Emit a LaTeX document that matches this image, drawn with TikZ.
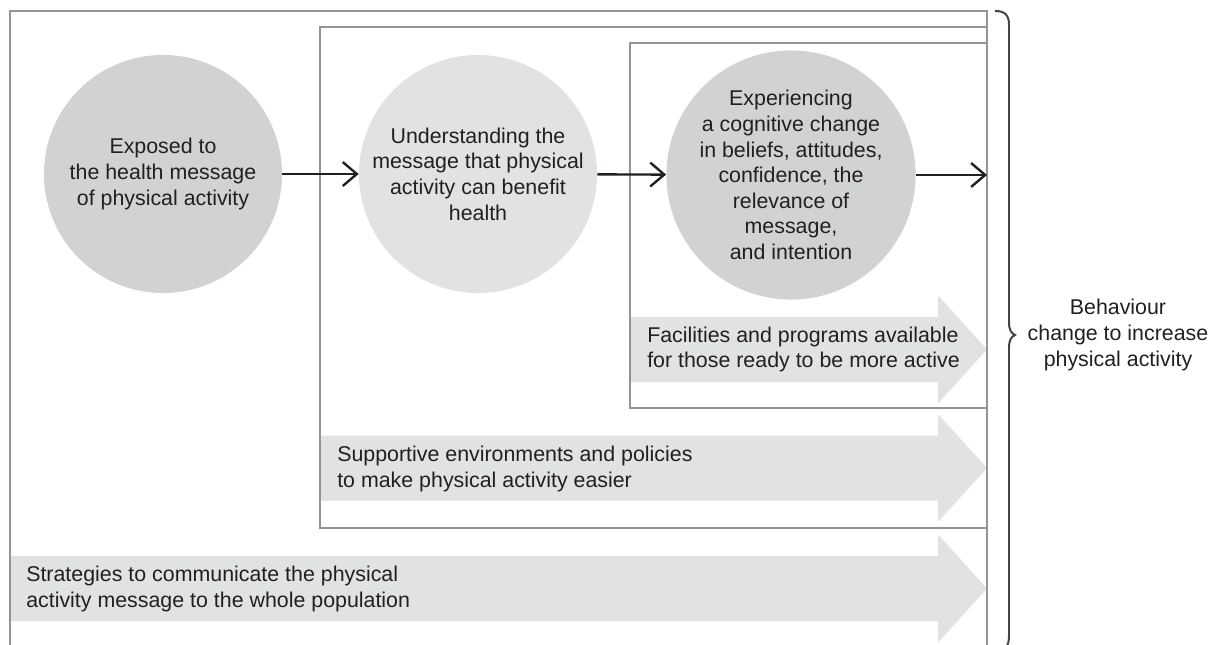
\documentclass[tikz,border=0pt]{standalone}
\usepackage{fontspec}
\setmainfont{Liberation Sans}
\usetikzlibrary{arrows.meta}

\definecolor{stagedark}{HTML}{D1D2D4}
\definecolor{stagelight}{HTML}{E1E2E4}
\definecolor{bandfill}{HTML}{E1E2E3}
\definecolor{framegray}{HTML}{939496}
\definecolor{ink}{HTML}{231F20}

\begin{document}
\begin{tikzpicture}[x=0.025cm,y=-0.025cm,
  every node/.style={font=\fontsize{15.2}{18.2}\selectfont,text=ink},
  stage/.style={circle,inner sep=0pt,minimum size=5.95cm,align=center},
  band/.style={fill=bandfill},
  bandtext/.style={anchor=west,align=left,inner sep=0pt},
  frameline/.style={draw=framegray,line width=2.1pt},
  flow/.style={draw=ink,line width=1.7pt,-{Straight Barb[length=10pt,width=17pt]}}]
\useasboundingbox (0,0) rectangle (1212,645);

% wide grey arrows
\foreach \x/\y in {630/349.5,320/468,10/588.5}
  \fill[band] (\x,\y-32.5) -- (938,\y-32.5) -- (938,\y-54) -- (987,\y)
    -- (938,\y+54) -- (938,\y+32.5) -- (\x,\y+32.5) -- cycle;

\node[bandtext] (facil) at (647,349.5) {Facilities and programs available\\for those ready to be more active};
\node[bandtext] (suppo) at (337,469) {Supportive environments and policies\\to make physical activity easier};
\node[bandtext] (strat) at (26,589) {Strategies to communicate the physical\\activity message to the whole population};

% nested frames
\draw[frameline] (10,652) -- (10,11) -- (987,11) -- (987,652);
\draw[frameline] (987,27) -- (320,27) -- (320,528) -- (987,528);
\draw[frameline] (987,43) -- (630,43) -- (630,408) -- (987,408);

% stages
\node[stage,fill=stagedark] (expo) at (163,174) {Exposed to\\the health message\\of physical activity};
\node[stage,fill=stagelight] (under) at (478,174) {Understanding the\\message that physical\\activity can benefit\\health};
\node[stage,fill=stagedark] (exper) at (791,175) {Experiencing\\a cognitive change\\in beliefs, attitudes,\\confidence, the\\relevance of\\message,\\and intention};
\coordinate (edge) at (987,175);

\draw[flow] (expo) -- (under);
\draw[flow] (under) -- (exper);
\draw[flow] (exper) -- (edge);

% brace and outcome
\draw[draw=ink!85,line width=1.4pt] (995,11) .. controls (1005,11) and (1009,15) .. (1009,25)
  -- (1009,322) .. controls (1009,330) and (1011,333) .. (1015,335)
  .. controls (1011,337) and (1009,340) .. (1009,348)
  -- (1009,636) .. controls (1009,646) and (1005,652) .. (995,652);
\node[align=center] (behav) at (1118,335) {Behaviour\\change to increase\\physical activity};
\end{tikzpicture}
\end{document}
